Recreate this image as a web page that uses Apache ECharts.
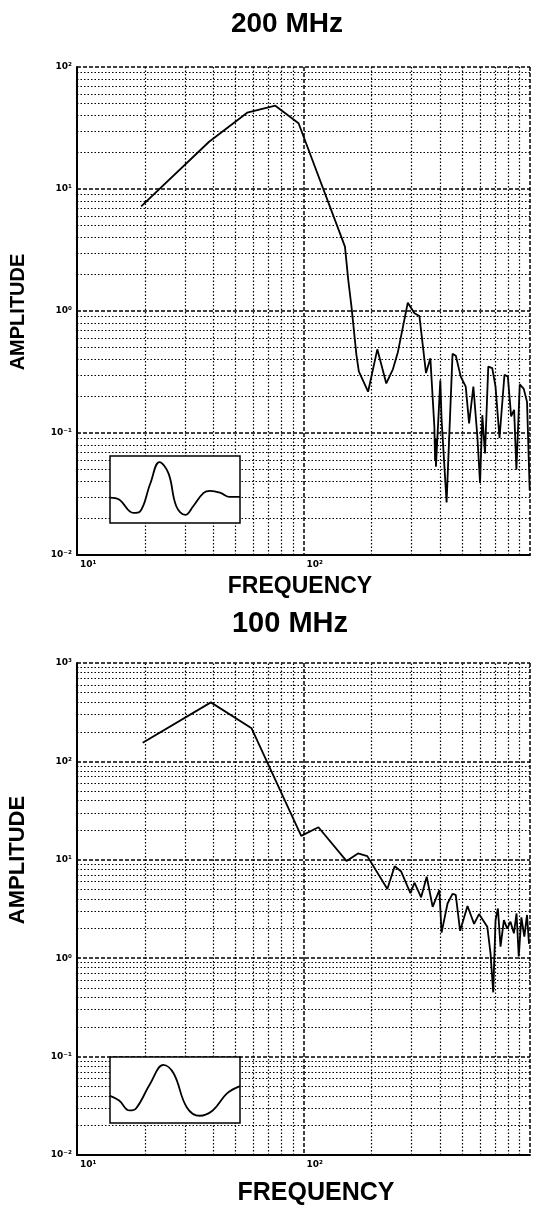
<!DOCTYPE html>
<html>
<head>
<meta charset="utf-8">
<script src="https://cdn.jsdelivr.net/npm/echarts@6/dist/echarts.min.js"></script>
<style>
  html, body { margin: 0; padding: 0; background: #fff; }
  #main { width: 533px; height: 1206px; }
</style>
</head>
<body>
<div id="main"></div>
<script>
// 200 MHz spectrum (frequency, amplitude)
var topFreq = [19.2, 38.3, 56.4, 75.1, 95.1, 144.9, 152.4, 157.6, 162.9, 171.3, 175.5, 192.8, 211.8, 232.0, 248.1, 261.0,
    288.7, 309.0, 324.9, 347.4, 363.2, 378.2, 381, 383, 384.3, 401.8, 407.1, 428.3, 455.0, 470.4, 494.7, 520.3, 538.4,
    562.3, 585.5, 601.7, 615.9, 632.9, 654.3, 681.2, 704.3, 733.4, 771.4, 798.3, 825.4, 851, 870.9, 901.3, 938.6, 970.2, 997];
var topAmp = [7.2, 24.4, 42.2, 48.2, 34.6, 4.33, 3.37, 1.8, 1.08, 0.435, 0.32, 0.218, 0.485, 0.255, 0.333, 0.46,
    1.17, 0.96, 0.91, 0.31, 0.41, 0.113, 0.06, 0.09, 0.053, 0.27, 0.128, 0.027, 0.445, 0.43, 0.29, 0.24, 0.12,
    0.24, 0.094, 0.039, 0.14, 0.068, 0.35, 0.34, 0.24, 0.091, 0.30, 0.29, 0.137, 0.155, 0.05, 0.25, 0.23, 0.18, 0.034];

// 100 MHz spectrum
var botFreq = [19.5, 39.0, 59.0, 97.7, 116.4, 155, 174, 191.3, 234.5, 252.6, 270, 296.6, 309, 330.6, 350, 371.7,
    397.9, 407, 432.5, 455, 470, 491.5, 529.7, 566.5, 595.5, 647.8, 669.5, 688, 704.6, 721.6, 741, 767, 793, 820,
    849, 872, 892, 916, 944, 970, 990];
var botAmp = [155, 398, 217, 17.5, 21.4, 9.7, 11.6, 10.9, 5.05, 8.6, 7.6, 4.57, 5.85, 4.16, 6.73, 3.33,
    4.93, 1.82, 3.6, 4.5, 4.4, 1.9, 3.39, 2.23, 2.81, 2.09, 1.12, 0.45, 2.44, 3.2, 1.31, 2.44, 2.0, 2.35,
    1.79, 2.85, 1.04, 2.6, 1.66, 2.75, 1.4];

// inset pulse shapes (time 0..1, level 0..1)
var topPulseX = [0, 0.07, 0.18, 0.23, 0.31, 0.38, 0.45, 0.51, 0.58, 0.64, 0.72, 0.77, 0.85, 0.92, 1.0];
var topPulseY = [0.38, 0.35, 0.15, 0.17, 0.59, 0.91, 0.74, 0.25, 0.12, 0.25, 0.45, 0.48, 0.45, 0.39, 0.39];
var botPulseX = [0, 0.07, 0.15, 0.2, 0.31, 0.41, 0.49, 0.59, 0.69, 0.79, 0.9, 1.0];
var botPulseY = [0.41, 0.34, 0.19, 0.22, 0.6, 0.88, 0.75, 0.24, 0.11, 0.19, 0.45, 0.56];

// minor grid lines
var freqGrid = [20, 30, 40, 50, 60, 70, 80, 90, 200, 300, 400, 500, 600, 700, 800, 900];
var ampGridTop = [0.02, 0.03, 0.04, 0.05, 0.06, 0.07, 0.08, 0.09, 0.2, 0.3, 0.4, 0.5, 0.6, 0.7, 0.8, 0.9,
    2, 3, 4, 5, 6, 7, 8, 9, 20, 30, 40, 50, 60, 70, 80, 90];
var ampGridBot = ampGridTop.concat([200, 300, 400, 500, 600, 700, 800, 900]);

var sup = { '-': '\u207B', '0': '\u2070', '1': '\u00B9', '2': '\u00B2', '3': '\u00B3' };
function powLabel(v) {
    var e = Math.round(Math.log10(v));
    return '10' + String(e).split('').map(function (c) { return sup[c]; }).join('');
}

var minorLine = { color: '#000', width: 1.2, type: [1.5, 2] };
var majorLine = { color: '#000', width: 1.5, type: [4, 2] };
var tickFont = { fontSize: 9, fontWeight: 'bold', color: '#000', fontFamily: 'DejaVu Sans' };

function pairs(xs, ys) {
    return xs.map(function (x, i) { return [x, ys[i]]; });
}

function gridMarks(ampGrid) {
    return {
        silent: true,
        symbol: ['none', 'none'],
        label: { show: false },
        lineStyle: minorLine,
        emphasis: { disabled: true },
        data: freqGrid.map(function (v) { return { xAxis: v }; })
            .concat(ampGrid.map(function (v) { return { yAxis: v }; }))
    };
}

var chart = echarts.init(document.getElementById('main'));

var option = {
    animation: false,
    backgroundColor: '#fff',
    grid: [
        { left: 77, top: 67, width: 456, height: 488 },
        { left: 77, top: 663, width: 456, height: 492 },
        { left: 110, top: 456, width: 130, height: 67, show: true, z: 10, backgroundColor: '#fff', borderColor: '#000', borderWidth: 1.5 },
        { left: 110, top: 1057, width: 130, height: 66, show: true, z: 10, backgroundColor: '#fff', borderColor: '#000', borderWidth: 1.5 }
    ],
    xAxis: [0, 1].map(function (g) {
        return {
            type: 'log', logBase: 10, min: 10, max: 1000, gridIndex: g,
            axisLine: { show: true, lineStyle: { color: '#000', width: 2 } },
            axisTick: { show: false },
            splitLine: { show: true, lineStyle: majorLine },
            axisLabel: Object.assign({
                margin: 5, align: 'left', padding: [0, 0, 0, 3],
                formatter: function (v) { return v >= 1000 ? '' : powLabel(v); }
            }, tickFont)
        };
    }).concat([2, 3].map(function (g) {
        return { type: 'value', min: 0, max: 1, gridIndex: g, show: false };
    })),
    yAxis: [
        { min: 0.01, max: 100, gridIndex: 0 },
        { min: 0.01, max: 1000, gridIndex: 1 }
    ].map(function (a) {
        return {
            type: 'log', logBase: 10, min: a.min, max: a.max, gridIndex: a.gridIndex,
            axisLine: { show: true, lineStyle: { color: '#000', width: 2 } },
            axisTick: { show: false },
            splitLine: { show: true, lineStyle: majorLine },
            axisLabel: Object.assign({ margin: 5, formatter: function (v) { return powLabel(v); } }, tickFont)
        };
    }).concat([2, 3].map(function (g) {
        return { type: 'value', min: 0, max: 1, gridIndex: g, show: false };
    })),
    series: [
        {
            type: 'line', xAxisIndex: 0, yAxisIndex: 0, data: pairs(topFreq, topAmp),
            showSymbol: false, lineStyle: { color: '#000', width: 1.8 }, z: 3,
            markLine: gridMarks(ampGridTop)
        },
        {
            type: 'line', xAxisIndex: 1, yAxisIndex: 1, data: pairs(botFreq, botAmp),
            showSymbol: false, lineStyle: { color: '#000', width: 1.8 }, z: 3,
            markLine: gridMarks(ampGridBot)
        },
        {
            type: 'line', xAxisIndex: 2, yAxisIndex: 2, data: pairs(topPulseX, topPulseY),
            showSymbol: false, smooth: 0.4, lineStyle: { color: '#000', width: 1.8 }, z: 12
        },
        {
            type: 'line', xAxisIndex: 3, yAxisIndex: 3, data: pairs(botPulseX, botPulseY),
            showSymbol: false, smooth: 0.4, lineStyle: { color: '#000', width: 1.8 }, z: 12
        }
    ],
    graphic: [
        { type: 'text', x: 287, y: 24, style: { text: '200 MHz', font: 'bold 28px "Liberation Sans"', fill: '#000', align: 'center', verticalAlign: 'middle' } },
        { type: 'text', x: 290, y: 624, style: { text: '100 MHz', font: 'bold 29px "Liberation Sans"', fill: '#000', align: 'center', verticalAlign: 'middle' } },
        { type: 'text', x: 300, y: 587, style: { text: 'FREQUENCY', font: 'bold 23px "Liberation Sans"', fill: '#000', align: 'center', verticalAlign: 'middle' } },
        { type: 'text', x: 316, y: 1193, style: { text: 'FREQUENCY', font: 'bold 25px "Liberation Sans"', fill: '#000', align: 'center', verticalAlign: 'middle' } },
        { type: 'text', x: 18, y: 312, rotation: Math.PI / 2, style: { text: 'AMPLITUDE', font: 'bold 20px "Liberation Sans"', fill: '#000', align: 'center', verticalAlign: 'middle' } },
        { type: 'text', x: 18, y: 860, rotation: Math.PI / 2, style: { text: 'AMPLITUDE', font: 'bold 22px "Liberation Sans"', fill: '#000', align: 'center', verticalAlign: 'middle' } }
    ]
};

chart.setOption(option);
</script>
</body>
</html>
